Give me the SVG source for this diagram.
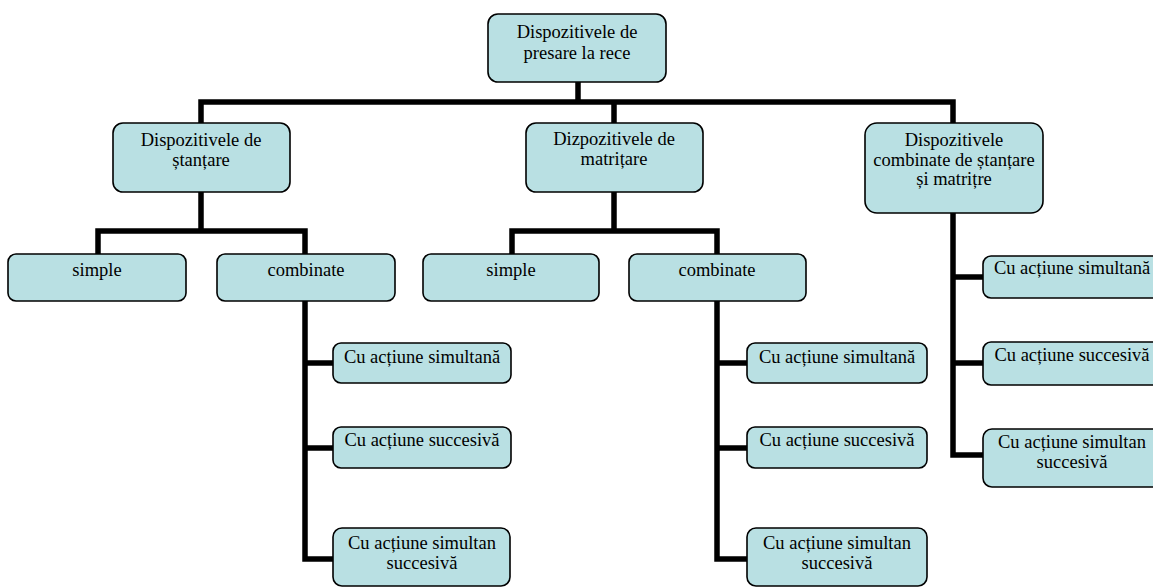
<svg xmlns="http://www.w3.org/2000/svg" width="1153" height="588" viewBox="0 0 1153 588">
<style>
.box{fill:#b9e0e3;stroke:#000;stroke-width:1.6}
.t{font-family:"Liberation Serif","Times New Roman",serif;font-size:18.5px;fill:#000;text-anchor:middle}
.c{fill:none;stroke:#000;stroke-width:5.5;stroke-linejoin:miter}
</style>
<rect width="1153" height="588" fill="#fff"/>
<g id="connectors">
<path class="c" d="M578 82V102M201 123V102H953V123M614 102V123"/>
<path class="c" d="M201 192V231M98 254V231H305V254"/>
<path class="c" d="M305 301V559H333M305 363H333M305 448H333"/>
<path class="c" d="M614 192V231M512 254V231H717V254"/>
<path class="c" d="M717 301V559H747M717 363H747M717 448H747"/>
<path class="c" d="M953 213V455H983M953 277H983M953 363H983"/>
</g>
<g id="root"><rect class="box" x="488" y="14" width="178" height="68" rx="10"/><text class="t" x="577" y="38">Dispozitivele de</text><text class="t" x="577" y="59">presare la rece</text></g>
<g id="stantare"><rect class="box" x="113" y="123" width="177" height="69" rx="10"/><text class="t" x="201" y="146">Dispozitivele de</text><text class="t" x="201" y="166">ștanțare</text></g>
<g id="matritare"><rect class="box" x="526" y="123" width="177" height="69" rx="10"/><text class="t" x="614" y="145">Dizpozitivele de</text><text class="t" x="614" y="165">matrițare</text></g>
<g id="combinate-sm"><rect class="box" x="865" y="123" width="178" height="90" rx="12"/><text class="t" x="954" y="146">Dispozitivele</text><text class="t" x="954" y="166">combinate de ștanțare</text><text class="t" x="954" y="185">și matrițre</text></g>
<g id="st-simple"><rect class="box" x="8" y="254" width="178" height="47" rx="8"/><text class="t" x="97" y="276">simple</text></g>
<g id="st-combinate"><rect class="box" x="217" y="254" width="178" height="47" rx="8"/><text class="t" x="306" y="276">combinate</text></g>
<g id="mt-simple"><rect class="box" x="423" y="254" width="176" height="47" rx="8"/><text class="t" x="511" y="276">simple</text></g>
<g id="mt-combinate"><rect class="box" x="629" y="254" width="177" height="47" rx="8"/><text class="t" x="717" y="276">combinate</text></g>
<g id="st-sim"><rect class="box" x="333" y="343" width="178" height="40" rx="8"/><text class="t" x="422" y="363">Cu acțiune simultană</text></g>
<g id="st-suc"><rect class="box" x="333" y="427" width="178" height="41" rx="8"/><text class="t" x="422" y="446">Cu acțiune succesivă</text></g>
<g id="st-simsuc"><rect class="box" x="333" y="528" width="177" height="58" rx="9"/><text class="t" x="422" y="549">Cu acțiune simultan</text><text class="t" x="422" y="569">succesivă</text></g>
<g id="mt-sim"><rect class="box" x="747" y="343" width="180" height="40" rx="8"/><text class="t" x="837" y="363">Cu acțiune simultană</text></g>
<g id="mt-suc"><rect class="box" x="747" y="427" width="180" height="41" rx="8"/><text class="t" x="837" y="446">Cu acțiune succesivă</text></g>
<g id="mt-simsuc"><rect class="box" x="747" y="528" width="180" height="58" rx="9"/><text class="t" x="837" y="549">Cu acțiune simultan</text><text class="t" x="837" y="569">succesivă</text></g>
<g id="c-sim"><rect class="box" x="983" y="256" width="178" height="42" rx="8"/><text class="t" x="1072" y="274">Cu acțiune simultană</text></g>
<g id="c-suc"><rect class="box" x="983" y="342" width="178" height="43" rx="8"/><text class="t" x="1072" y="361">Cu acțiune succesivă</text></g>
<g id="c-simsuc"><rect class="box" x="983" y="429" width="178" height="58" rx="9"/><text class="t" x="1072" y="448">Cu acțiune simultan</text><text class="t" x="1072" y="468">succesivă</text></g>
</svg>
